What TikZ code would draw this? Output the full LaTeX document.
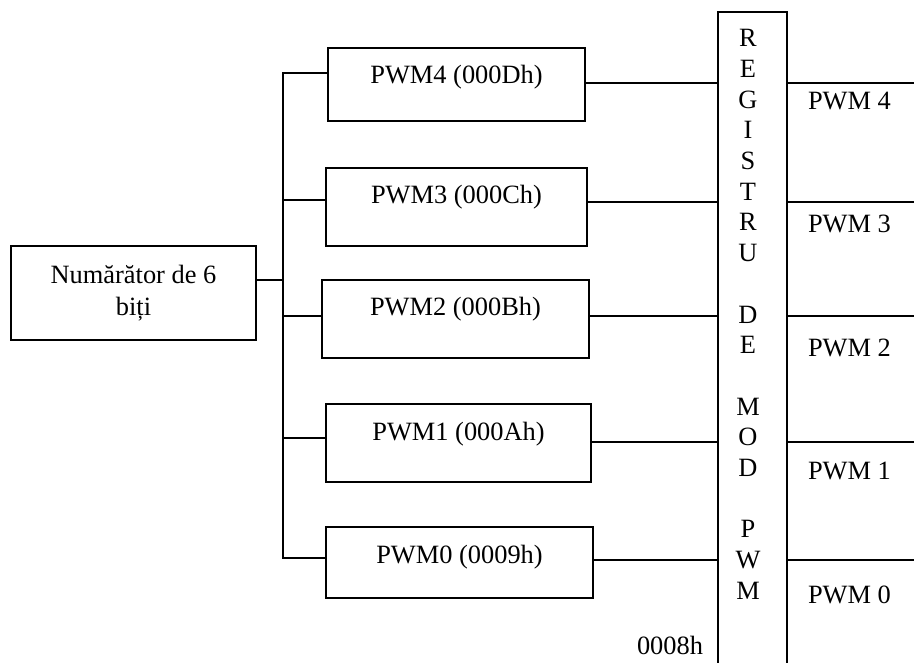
\documentclass[tikz,border=0pt]{standalone}
\usepackage{fontspec}
\setmainfont{Liberation Serif}
\begin{document}
\begin{tikzpicture}[x=1pt,y=-1pt,
  line width=1.6pt,
  every node/.style={inner sep=0pt, outer sep=0pt},
  txt/.style={font=\fontsize{26.4}{30.7}\selectfont},
  pwmbox/.style={draw, txt, anchor=north west, text height=36pt},
  outlabel/.style={txt, anchor=base west}]
\useasboundingbox (0,0) rectangle (914,663);
\clip (0,0) rectangle (914,663);

% counter
\node[draw, txt, align=center, minimum width=245pt, minimum height=94pt,
      font=\fontsize{26.4}{32}\selectfont] (cnt) at (133.5,293) {Numărător de 6\\biți};

% PWM channel registers
\node[pwmbox, minimum width=257pt, text depth=37pt] (p4) at (328,48)  {PWM4 (000Dh)};
\node[pwmbox, minimum width=261pt, text depth=42pt] (p3) at (326,168) {PWM3 (000Ch)};
\node[pwmbox, minimum width=267pt, text depth=42pt] (p2) at (322,280) {PWM2 (000Bh)};
\node[pwmbox, minimum width=265pt, text depth=42pt] (p1) at (326,404) {PWM1 (000Ah)};
\node[pwmbox, minimum width=267pt, text depth=35pt] (p0) at (326,527) {PWM0 (0009h)};

% PWM mode register (runs past the lower edge)
\node[draw, anchor=north west, minimum width=69pt, minimum height=700pt] (reg) at (718,12) {};
\node[txt, align=center, anchor=north] (regtxt) at (748,29.5)
  {R\\E\\G\\I\\S\\T\\R\\U\\\mbox{}\\D\\E\\\mbox{}\\M\\O\\D\\\mbox{}\\P\\W\\M};

% bus and connection points
\coordinate (bus) at (283,0);
\coordinate (edge) at (914,0);
\coordinate (c0) at ([yshift=13pt]cnt.east);
\coordinate (i4) at ([yshift=11.5pt]p4.west);
\coordinate (i3) at ([yshift=7pt]p3.west);
\coordinate (i2) at ([yshift=3pt]p2.west);
\coordinate (i1) at ([yshift=5pt]p1.west);
\coordinate (i0) at ([yshift=4.5pt]p0.west);
\coordinate (o4) at ([yshift=1.5pt]p4.east);
\coordinate (o3) at ([yshift=5pt]p3.east);
\coordinate (o2) at ([yshift=3pt]p2.east);
\coordinate (o1) at ([yshift=1pt]p1.east);
\coordinate (o0) at ([yshift=2.5pt]p0.east);

\draw (i4) -- (bus |- i4) -- (bus |- i0) -- (i0);
\draw (c0) -- (bus |- c0);
\draw (bus |- i3) -- (i3);
\draw (bus |- i2) -- (i2);
\draw (bus |- i1) -- (i1);

\foreach \o in {o4,o3,o2,o1,o0}{
  \draw (\o) -- (reg.west |- \o);
  \draw (reg.east |- \o) -- (edge |- \o);
}

% output labels
\node[outlabel] (l4) at (808,110) {PWM 4};
\node[outlabel] (l3) at (808,233) {PWM 3};
\node[outlabel] (l2) at (808,357) {PWM 2};
\node[outlabel] (l1) at (808,479) {PWM 1};
\node[outlabel] (l0) at (808,603) {PWM 0};

\node[outlabel] (addr) at (637,654) {0008h};
\end{tikzpicture}
\end{document}
